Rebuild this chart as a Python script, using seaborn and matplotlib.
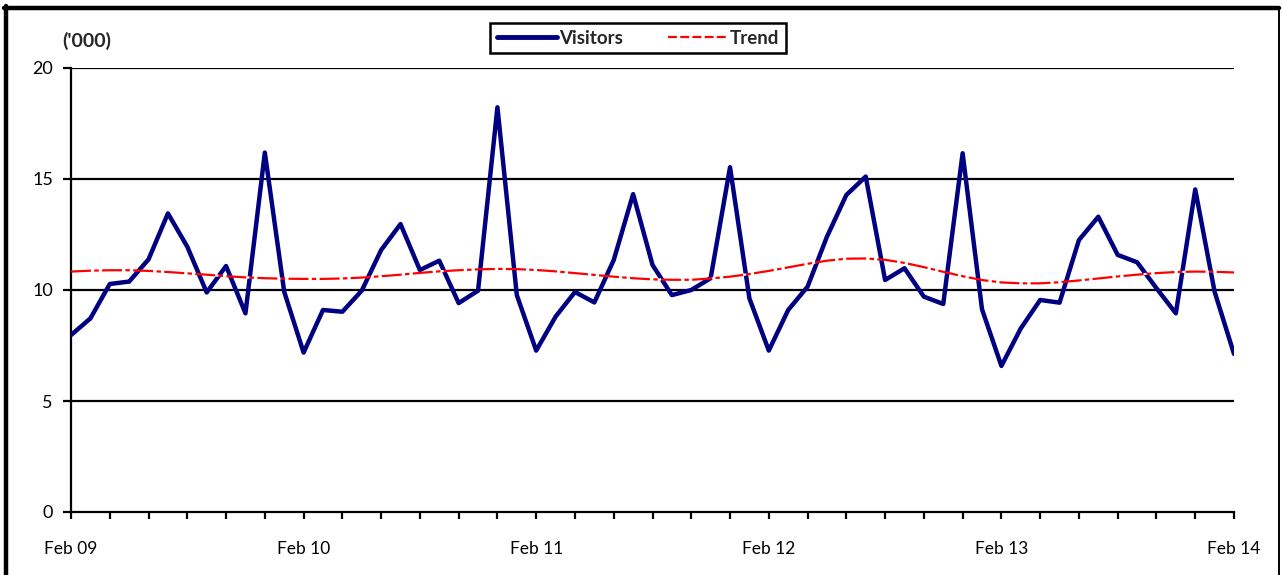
import matplotlib
matplotlib.use('Agg')
import matplotlib.pyplot as plt
import matplotlib.lines as mlines
import seaborn as sns
import pandas as pd
import numpy as np

# monthly visitors ('000), Feb 09 .. Feb 14
visitors = [7.97, 8.72, 10.27, 10.38, 11.38, 13.45, 11.95, 9.89, 11.08, 8.95,
            16.19, 9.92, 7.18, 9.10, 9.02, 9.97, 11.80, 12.97, 10.90, 11.32,
            9.41, 9.97, 18.23, 9.77, 7.27, 8.80, 9.91, 9.44, 11.35, 14.32,
            11.13, 9.77, 10.00, 10.53, 15.53, 9.62, 7.27, 9.10, 10.15, 12.40,
            14.28, 15.11, 10.45, 10.98, 9.70, 9.37, 16.16, 9.13, 6.58, 8.27,
            9.55, 9.43, 12.25, 13.30, 11.58, 11.25, 10.08, 8.95, 14.53, 9.92,
            7.12]
trend = [10.83, 10.87, 10.89, 10.89, 10.86, 10.81, 10.75, 10.69, 10.62, 10.57,
         10.53, 10.51, 10.50, 10.50, 10.52, 10.56, 10.62, 10.69, 10.77, 10.84,
         10.89, 10.93, 10.95, 10.94, 10.90, 10.84, 10.76, 10.68, 10.60, 10.53,
         10.48, 10.46, 10.46, 10.52, 10.60, 10.72, 10.86, 11.02, 11.18, 11.32,
         11.41, 11.42, 11.36, 11.22, 11.03, 10.82, 10.62, 10.45, 10.34, 10.30,
         10.30, 10.35, 10.43, 10.52, 10.61, 10.69, 10.76, 10.81, 10.83, 10.82,
         10.79]
year_labels = ["Feb 09", "Feb 10", "Feb 11", "Feb 12", "Feb 13", "Feb 14"]
y_ticks = [0, 5, 10, 15, 20]

df = pd.DataFrame({"month": range(len(visitors)), "Visitors": visitors, "Trend": trend})

sns.set_style("white")
plt.rcParams['font.family'] = ['Lato', 'DejaVu Sans']

fig = plt.figure(figsize=(12.82, 5.75), dpi=100)
ax = fig.add_axes([71 / 1282, 1 - 512 / 575, (1234 - 71) / 1282, (512 - 68) / 575])

for y in y_ticks[1:]:
    ax.axhline(y, color='black', lw=1.6, zorder=1)

sns.lineplot(data=df, x="month", y="Visitors", ax=ax, color='#000080', lw=3.2, zorder=3)
sns.lineplot(data=df, x="month", y="Trend", ax=ax, color='red', lw=1.6, zorder=4,
             dashes=False)
# dash-dot look of the trend line
tl = ax.get_lines()[-1]
tl.set_dashes([9, 1.5, 2, 1.5])
tl.set_gapcolor('white')

ax.set_xlim(0, 60)
ax.set_ylim(0, 20)
ax.set_xlabel("")
ax.set_ylabel("")

ax.set_xticks(range(0, 61, 2))
ax.set_xticklabels([year_labels[i // 12] if i % 12 == 0 else "" for i in range(0, 61, 2)])
ax.set_yticks(y_ticks)
ax.tick_params(axis='x', direction='out', length=5, width=1.6, pad=16,
               labelsize=12.5, colors='black', bottom=True)
ax.tick_params(axis='y', direction='out', length=6, width=1.6, pad=7,
               labelsize=13, colors='black', left=True)

for side in ['top', 'right']:
    ax.spines[side].set_visible(False)
for side in ['left', 'bottom']:
    ax.spines[side].set_color('black')
    ax.spines[side].set_linewidth(1.6)

fig.text(62 / 1282, 1 - 41 / 575, "('000)", fontsize=14, fontweight='bold',
         va='center', ha='left')

h1 = mlines.Line2D([], [], color='#000080', lw=3.5)
h2 = mlines.Line2D([], [], color='red', lw=1.6, dashes=[4, 1.5])
leg = fig.legend([h1, h2], ["Visitors", "Trend"], loc='center',
                 bbox_to_anchor=(638 / 1282, 1 - 38 / 575), ncol=2, frameon=True,
                 fancybox=False, edgecolor='black', framealpha=1, handlelength=3.2,
                 handletextpad=0.1, columnspacing=2.4, borderpad=0.35,
                 prop={'weight': 'bold', 'size': 13.5})
leg.get_frame().set_linewidth(1.8)

# outer chart border (left/top heavy, right thin)
fig.add_artist(mlines.Line2D([6 / 1282, 6 / 1282], [0, 1 - 6 / 575],
                             color='black', lw=3.2, transform=fig.transFigure))
fig.add_artist(mlines.Line2D([4 / 1282, 1279 / 1282], [1 - 7.5 / 575, 1 - 7.5 / 575],
                             color='black', lw=3.2, transform=fig.transFigure))
fig.add_artist(mlines.Line2D([1279 / 1282, 1279 / 1282], [0, 1 - 7.5 / 575],
                             color='black', lw=1.4, transform=fig.transFigure))

fig.savefig("out.png", dpi=100)
plt.close(fig)
